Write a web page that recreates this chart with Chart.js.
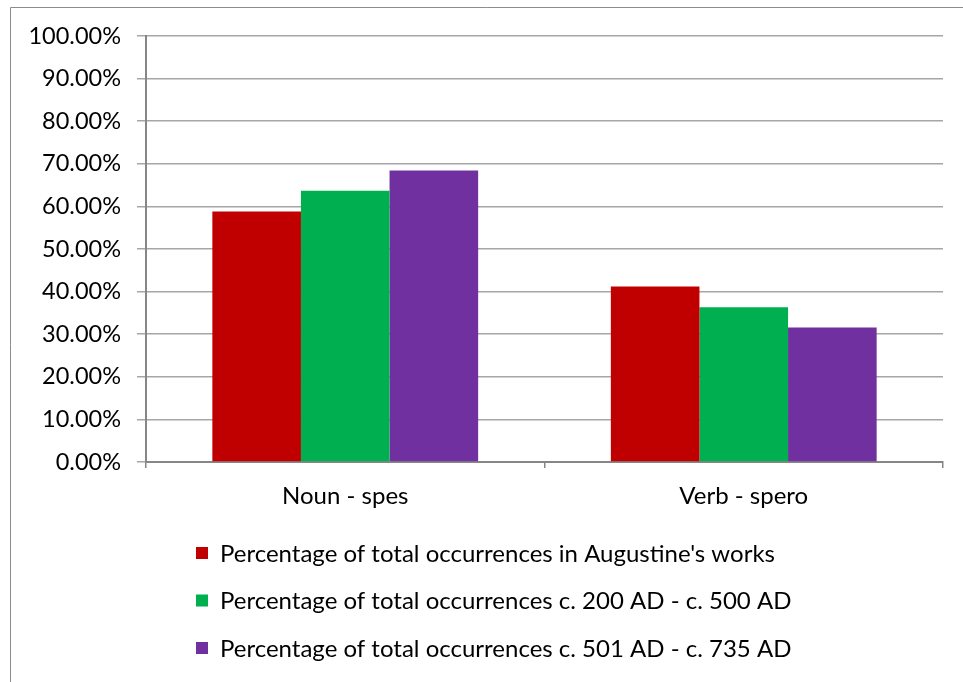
<!DOCTYPE html>
<html>
<head>
<meta charset="utf-8">
<script src="https://cdn.jsdelivr.net/npm/chart.js@4"></script>
<style>
  html, body { margin: 0; padding: 0; background: #fff; }
  #wrap { position: relative; width: 963px; height: 682px; }
</style>
</head>
<body>
<div id="wrap"><canvas id="chart" width="963" height="682"></canvas></div>
<script>
////// data //////
const categories = ['Noun - spes', 'Verb - spero'];
const seriesNames = [
  "Percentage of total occurrences in Augustine's works",
  'Percentage of total occurrences c. 200 AD - c. 500 AD',
  'Percentage of total occurrences c. 501 AD - c. 735 AD'
];
const augustine = [0.588, 0.412];
const ad200to500 = [0.637, 0.363];
const ad501to735 = [0.684, 0.316];
const yTicks = [0, 0.1, 0.2, 0.3, 0.4, 0.5, 0.6, 0.7, 0.8, 0.9, 1];

const colors = ['#C00000', '#00B050', '#7030A0'];
const FONT = 'Lato, "Liberation Sans", sans-serif';

////// frame + legend drawn on the canvas //////
const framePlugin = {
  id: 'frame',
  beforeDraw(chart) {
    const ctx = chart.ctx;
    ctx.save();
    ctx.strokeStyle = '#8c8c8c';
    ctx.lineWidth = 1;
    ctx.beginPath();
    ctx.moveTo(10.5, 682);
    ctx.lineTo(10.5, 7.5);
    ctx.lineTo(963, 7.5);
    ctx.stroke();
    ctx.restore();
  }
};

const listLegend = {
  id: 'listLegend',
  afterDraw(chart) {
    const ctx = chart.ctx;
    ctx.save();
    ctx.font = '24px ' + FONT;
    ctx.textBaseline = 'middle';
    chart.data.datasets.forEach((ds, i) => {
      const y = 553 + i * 47.5;
      ctx.fillStyle = ds.backgroundColor;
      ctx.fillRect(196, y - 6, 12, 12);
      ctx.fillStyle = '#000';
      ctx.fillText(ds.label, 220, y + 1);
    });
    ctx.restore();
  }
};

const datasets = [augustine, ad200to500, ad501to735].map((vals, i) => ({
  label: seriesNames[i],
  data: vals,
  backgroundColor: colors[i],
  borderWidth: 0,
  categoryPercentage: 0.667,
  barPercentage: 1.0
}));

new Chart(document.getElementById('chart'), {
  type: 'bar',
  data: { labels: categories, datasets: datasets },
  plugins: [framePlugin, listLegend],
  options: {
    responsive: false,
    animation: false,
    layout: { padding: { left: 0, right: 20, top: 36, bottom: 170 } },
    plugins: {
      legend: { display: false },
      tooltip: { enabled: false }
    },
    scales: {
      x: {
        offset: true,
        grid: {
          offset: true,
          drawOnChartArea: false,
          drawTicks: true,
          tickLength: 6,
          color: '#868686',
          lineWidth: 1.5
        },
        border: { color: '#868686', width: 2 },
        ticks: { color: '#000', font: { family: FONT, size: 24 }, padding: 14 },
        afterFit(scale) { scale.height = 50; }
      },
      y: {
        min: 0,
        max: 1,
        afterBuildTicks(scale) { scale.ticks = yTicks.map(v => ({ value: v })); },
        grid: {
          color: '#a6a6a6',
          lineWidth: 1.5,
          tickLength: 9
        },
        border: { color: '#868686', width: 2 },
        ticks: {
          color: '#000',
          font: { family: FONT, size: 23.5 },
          padding: 16,
          callback: v => (v * 100).toFixed(2) + '%'
        },
        afterFit(scale) { scale.width = 146; }
      }
    }
  }
});
</script>
</body>
</html>
